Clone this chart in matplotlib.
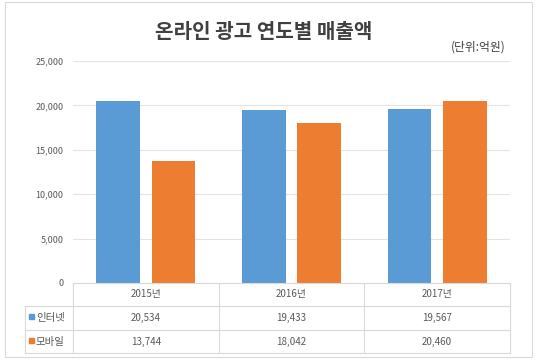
import matplotlib
matplotlib.use("Agg")
import matplotlib.pyplot as plt
import numpy as np
from matplotlib.patches import Rectangle

plt.rcParams['font.family'] = ['Noto Sans CJK KR', 'DejaVu Sans']

categories = ['2015년', '2016년', '2017년']
series_names = ['인터넷', '모바일']
internet = [20534, 19433, 19567]
mobile = [13744, 18042, 20460]
yticks = [0, 5000, 10000, 15000, 20000, 25000]
colors = ['#5B9BD5', '#ED7D31']
title = '온라인 광고 연도별 매출액'
unit = '(단위:억원)'

W, H = 537, 360
fig = plt.figure(figsize=(W/100, H/100), dpi=100)
fig.patch.set_facecolor('white')

# outer border
fig.add_artist(Rectangle((5/W, 3/H), 527/W, 355/H, transform=fig.transFigure,
                         fill=False, edgecolor='#D9D9D9', linewidth=0.8))

L, R, T, B = 73, 510, 61, 283
ax = fig.add_axes([L/W, 1-B/H, (R-L)/W, (B-T)/H])
x = np.arange(len(categories))
bw = 0.30
gap = 0.08
ax.bar(x - (bw+gap)/2, internet, width=bw, color=colors[0], zorder=3)
ax.bar(x + (bw+gap)/2, mobile, width=bw, color=colors[1], zorder=3)
ax.set_xlim(-0.5, len(categories)-0.5)
ax.set_ylim(0, 25000)
ax.set_yticks(yticks)
ax.set_yticklabels([f'{v:,}' for v in yticks], fontsize=6.5, color='#595959')
ax.set_xticks([])
ax.grid(axis='y', color='#E3E3E3', linewidth=0.8, zorder=0)
for s in ax.spines.values():
    s.set_visible(False)
ax.tick_params(axis='y', length=0, pad=7)

# title
fig.text(264/W, 1-32/H, title, ha='center', va='center',
         fontsize=14.5, color='#404040', fontweight='bold')
fig.text(506/W, 1-47/H, unit, ha='right', va='center', fontsize=8.5, color='#404040')

# table
tax = fig.add_axes([0, 0, 1, 1], facecolor='none')
tax.set_xlim(0, W)
tax.set_ylim(H, 0)
tax.axis('off')
rows_y = [283, 306, 330, 353]
lc = '#D9D9D9'
TL = 25
tax.plot([L, R], [rows_y[0], rows_y[0]], color=lc, lw=0.8)
for yy in rows_y[1:]:
    tax.plot([TL, R], [yy, yy], color=lc, lw=0.8)
cw = (R-L)/len(categories)
for i in range(len(categories)+1):
    xx = L + i*cw
    tax.plot([xx, xx], [rows_y[0], rows_y[-1]], color=lc, lw=0.8)
tax.plot([TL, TL], [rows_y[1], rows_y[-1]], color=lc, lw=0.8)

for i, c in enumerate(categories):
    tax.text(L + (i+0.5)*cw, (rows_y[0]+rows_y[1])/2, c, ha='center', va='center',
             fontsize=7, color='#595959')
for r, (name, vals) in enumerate(zip(series_names, [internet, mobile])):
    yc = (rows_y[r+1]+rows_y[r+2])/2
    tax.add_patch(Rectangle((29, yc-4), 5, 5, color=colors[r]))
    tax.text(36, yc, name, ha='left', va='center', fontsize=7.5, color='#595959')
    for i, v in enumerate(vals):
        tax.text(L + (i+0.5)*cw, yc, f'{v:,}', ha='center', va='center',
                 fontsize=7, color='#595959')

fig.savefig('out.png', dpi=100)
